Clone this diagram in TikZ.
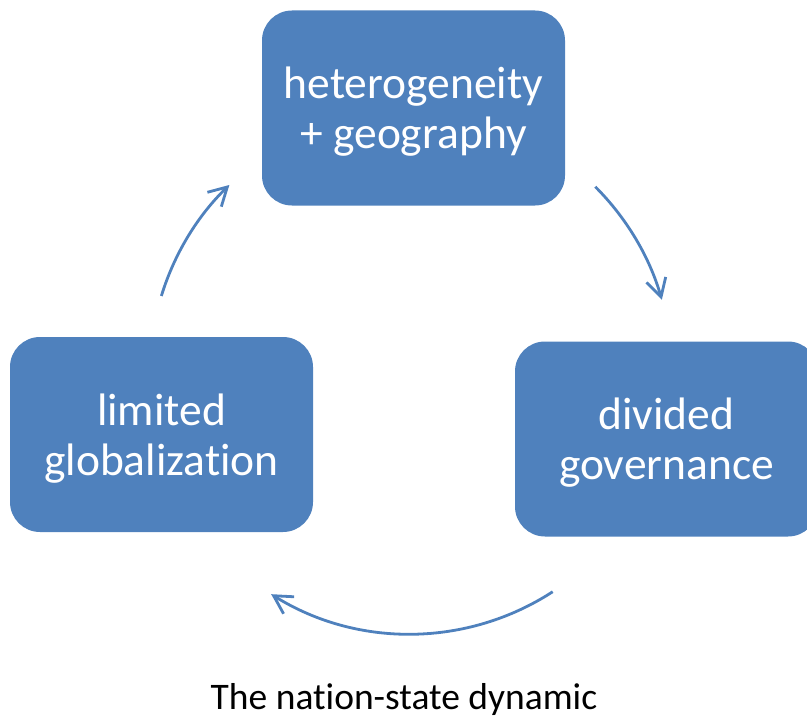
\documentclass[tikz,border=0pt]{standalone}
\usepackage{fontspec}
\setmainfont{Carlito}[Ligatures=CommonOff]
\usetikzlibrary{arrows.meta,calc}
\definecolor{boxblue}{HTML}{4F81BD}
\tikzset{
  cyclebox/.style={fill=boxblue, draw=none, rounded corners=30pt, minimum width=303pt, minimum height=195pt,
    inner sep=0pt, align=center, text=white, font=\fontsize{45.5}{50}\selectfont},
  cyclearrow/.style={draw=boxblue, line width=2.8pt, -{Straight Barb[length=18pt,width=20pt]}},
  celltext/.style={align=center, text=white, font=\fontsize{45.5}{50}\selectfont, inner sep=0pt},
}
\begin{document}
\begin{tikzpicture}[x=1pt,y=-1pt]
\useasboundingbox (0,0) rectangle (807,717);
\node[cyclebox] (top) at (413.5,108) {};
\node[cyclebox] (left) at (161.5,434.5) {};
\node[cyclebox] (right) at (666.5,439) {};
\node[celltext] (toptext) at ($(top.center)+(0,4)$) {heterogeneity\\+ geography};
\node[celltext] (lefttext) at ($(left.center)+(0,4)$) {limited\\globalization};
\node[celltext] (righttext) at ($(right.center)+(0,4)$) {divided\\governance};
\node[font=\fontsize{37.5}{42}\selectfont, anchor=base] (cap) at (404,709) {The nation-state dynamic};
\coordinate (c) at (410,372);
\draw[cyclearrow] ($(c)+(163:260 and -260)$) arc[start angle=163, end angle=134, x radius=260, y radius=-260];
\draw[cyclearrow] ($(c)+(45:262 and -262)$) arc[start angle=45, end angle=16, x radius=262, y radius=-262];
\draw[cyclearrow] ($(c)+(-57:262 and -262)$) arc[start angle=-57, end angle=-122, x radius=262, y radius=-262];
\end{tikzpicture}
\end{document}
